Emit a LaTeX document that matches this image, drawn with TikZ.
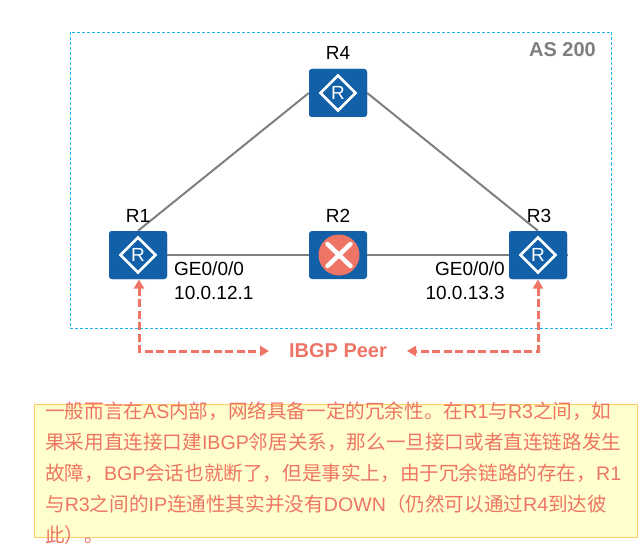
\documentclass[tikz,border=0pt]{standalone}
\usepackage{fontspec}
\setmainfont{Liberation Sans}
\newfontfamily\cjk{Noto Sans CJK SC}
\usetikzlibrary{arrows.meta,calc}
\definecolor{routerblue}{HTML}{1160A8}
\definecolor{salmon}{HTML}{EE7566}
\definecolor{linkgray}{HTML}{7F7F7F}
\definecolor{asblue}{HTML}{1CB6F0}
\definecolor{noteedge}{HTML}{FFCC66}
\definecolor{notefill}{HTML}{FFFFCC}
\tikzset{
  routerbox/.style={draw=none,fill=routerblue,rounded corners=3pt,minimum width=58pt,minimum height=48pt,inner sep=0pt},
  rname/.style={font=\fontsize{19}{19}\selectfont,text=black,inner sep=0pt},
  iflabel/.style={font=\fontsize{19}{24}\selectfont,text=black,inner sep=0pt},
  link/.style={draw=linkgray,line width=2pt},
  peerline/.style={draw=salmon,line width=3pt,dash pattern=on 8pt off 3.5pt,{Triangle[length=9pt,width=10pt]}-{Triangle[length=9pt,width=10pt]}},
  peershadow/.style={draw=black,line width=5pt,opacity=0.025},
}
\newcommand{\routericon}[1]{%
  \draw[white,line width=2.6pt,line join=miter] ($(#1)+(-17.5,0)$)--($(#1)+(0,-17.5)$)--($(#1)+(17.5,0)$)--($(#1)+(0,17.5)$)--cycle;
  \node[text=white,inner sep=0pt,font=\fontsize{19}{19}\selectfont] at (#1) {R};
}
\begin{document}
\begin{tikzpicture}[x=1pt,y=-1pt]
\useasboundingbox (0,0) rectangle (644,545);
\fill[white] (0,0) rectangle (644,545);
\draw[asblue,line width=1pt,dash pattern=on 3pt off 2pt] (70.5,32.5) rectangle (611.5,328.5);
\node[font=\bfseries\fontsize{20}{20}\selectfont,text=linkgray,anchor=east,inner sep=0pt] (as) at (596,50) {AS 200};
\node[routerbox] (R1) at (138,255) {};
\node[routerbox] (R2) at (338,255) {};
\node[routerbox] (R3) at (538,255) {};
\node[routerbox] (R4) at (338,93) {};
\draw[link] (R1.north) -- (R4.west);
\draw[link] (R4.east) -- (R3.north);
\draw[link] (R1.east) -- (R2.west);
\draw[link] (R2.east) -- ($(R3.east)+(1,0)$);
\node[routerbox] at (R3) {};
\node[routerbox] at (R1) {};
\node[routerbox] at (R4) {};
\routericon{R1}\routericon{R3}\routericon{R4}
\fill[salmon] ($(R2)+(1,0)$) circle (20.5pt);
\draw[white,line width=4.5pt,line cap=round] ($(R2)+(-10.5,-11)$)--($(R2)+(12.5,11)$) ($(R2)+(-10.5,11)$)--($(R2)+(12.5,-11)$);
\node[rname] (l1) at (138,216) {R1};
\node[rname] (l2) at (338,216) {R2};
\node[rname] (l3) at (539,216) {R3};
\node[rname] (l4) at (338,53) {R4};
\node[iflabel,anchor=north west,align=left] (i1) at (174,262) {GE0/0/0\\10.0.12.1};
\node[iflabel,anchor=north east,align=right] (i3) at (505,262) {GE0/0/0\\10.0.13.3};
\node[font=\bfseries\fontsize{20}{20}\selectfont,text=salmon,inner sep=0pt] (peer) at (338,351) {IBGP Peer};
\coordinate (pl) at (269,351);
\coordinate (pr) at (407,351);
\coordinate (t1) at (139,279.5);
\coordinate (t3) at (538,279.5);
\draw[peershadow] ($(t1)+(1,6)$) -- ($(t1)+(1,75)$) -- ($(pl)+(-2,4)$);
\draw[peershadow] ($(t3)+(1,6)$) -- ($(t3)+(1,75)$) -- ($(pr)+(2,4)$);
\draw[peerline] (t1) |- (pl);
\draw[peerline] (t3) |- (pr);
\draw[noteedge,fill=notefill,line width=1pt] (34.5,404.5) rectangle (637.5,537.5);
\node[anchor=north west,inner sep=0pt,text=salmon,align=left,font=\fontsize{19.6}{31}\selectfont] (note) at (45,402) {%
{\cjk 一般而言在}AS{\cjk 内部，网络具备一定的冗余性。在}R1{\cjk 与}R3{\cjk 之间，如}\\
{\cjk 果采用直连接口建}IBGP{\cjk 邻居关系，那么一旦接口或者直连链路发生}\\
{\cjk 故障，}BGP{\cjk 会话也就断了，但是事实上，由于冗余链路的存在，}R1\\
{\cjk 与}R3{\cjk 之间的}IP{\cjk 连通性其实并没有}DOWN{\cjk （仍然可以通过}R4{\cjk 到达彼}\\
{\cjk 此）。}};
\end{tikzpicture}
\end{document}
